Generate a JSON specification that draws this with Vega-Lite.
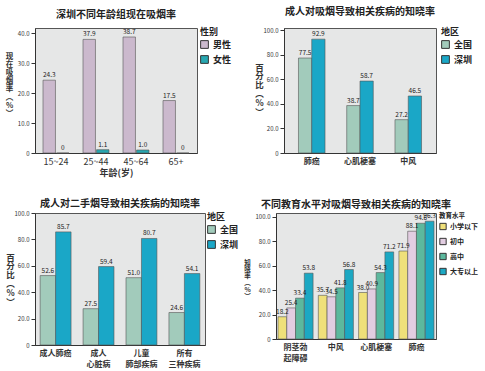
{
  "$schema": "https://vega.github.io/schema/vega-lite/v6.json",
  "background": "white",
  "padding": {"left": 4, "right": 0, "top": 6, "bottom": 0},
  "spacing": 20,
  "config": {
    "font": "Noto Sans CJK SC",
    "view": {"fill": "#e6e7e7", "stroke": "#555", "strokeWidth": 1},
    "title": {"font": "Noto Sans CJK SC", "fontSize": 10, "fontWeight": "bold", "color": "#222", "offset": 8},
    "axis": {"labelFont": "Noto Sans CJK SC", "titleFont": "Noto Sans CJK SC", "domainColor": "#333", "tickColor": "#333", "labelColor": "#333", "titleColor": "#333", "grid": false},
    "legend": {"labelFont": "Noto Sans CJK SC", "titleFont": "Noto Sans CJK SC", "titleFontSize": 9, "labelFontSize": 9, "titleFontWeight": "bold", "labelFontWeight": "bold", "symbolType": "square", "symbolSize": 60, "symbolStrokeColor": "#333", "symbolStrokeWidth": 1, "offset": 4, "rowPadding": 2, "titlePadding": 3, "labelColor": "#222", "titleColor": "#222"},
    "concat": {"spacing": 16}
  },
  "resolve": {"scale": {"color": "independent", "xOffset": "independent"}},
  "vconcat": [
    {
      "resolve": {"scale": {"color": "independent", "xOffset": "independent"}},
      "spacing": 21,
      "hconcat": [
        {
          "title": {"text": "深圳不同年龄组现在吸烟率", "offset": 8},
          "width": 162, "height": 125,
          "data": {"values": [
            {"age": "15~24", "sex": "男性", "v": 24.3}, {"age": "15~24", "sex": "女性", "v": 0},
            {"age": "25~44", "sex": "男性", "v": 37.9}, {"age": "25~44", "sex": "女性", "v": 1.1},
            {"age": "45~64", "sex": "男性", "v": 38.7}, {"age": "45~64", "sex": "女性", "v": 1.0},
            {"age": "65+", "sex": "男性", "v": 17.5}, {"age": "65+", "sex": "女性", "v": 0}
          ]},
          "encoding": {
            "x": {"field": "age", "type": "nominal", "sort": ["15~24", "25~44", "45~64", "65+"], "scale": {"paddingInner": 0.35, "paddingOuter": 0.2}, "axis": {"title": "年龄(岁)", "labelAngle": 0, "labelFontSize": 9, "titleFontSize": 9, "ticks": false, "labelPadding": 4, "titlePadding": 2}},
            "xOffset": {"field": "sex", "sort": ["男性", "女性"], "scale": {"paddingInner": 0.08}},
            "y": {"field": "v", "type": "quantitative", "scale": {"domain": [0, 41.7], "nice": false}, "axis": {"values": [0, 10, 20, 30, 40], "labelExpr": "datum.value == 0 ? '0' : format(datum.value, '.1f')", "labelFontSize": 6, "tickSize": 4, "title": ["现", "在", "吸", "烟", "率", "︵", "%", "︶"], "titleAngle": 0, "titleFontSize": 7.5, "titleLineHeight": 8.2, "titleAlign": "center", "titleBaseline": "middle", "titleX": -26, "titleY": 28}}
          },
          "layer": [
            {"mark": {"type": "bar", "stroke": "#555", "strokeWidth": 0.6}, "encoding": {"color": {"field": "sex", "type": "nominal", "sort": ["男性", "女性"], "scale": {"domain": ["男性", "女性"], "range": ["#cbb9cd", "#27a7b1"]}, "legend": {"title": "性别", "orient": "right", "offset": 3}}}},
            {"mark": {"type": "text", "dy": -5, "fontSize": 6.5, "color": "#222", "text": {"expr": "datum.v == 0 ? '0' : format(datum.v, '.1f')"}}}
          ]
        },
        {
          "title": {"text": "成人对吸烟导致相关疾病的知晓率", "offset": 10},
          "width": 152, "height": 125,
          "data": {"values": [
            {"c": "肺癌", "r": "全国", "v": 77.5}, {"c": "肺癌", "r": "深圳", "v": 92.9},
            {"c": "心肌梗塞", "r": "全国", "v": 38.7}, {"c": "心肌梗塞", "r": "深圳", "v": 58.7},
            {"c": "中风", "r": "全国", "v": 27.2}, {"c": "中风", "r": "深圳", "v": 46.5}
          ]},
          "encoding": {
            "x": {"field": "c", "type": "nominal", "sort": ["肺癌", "心肌梗塞", "中风"], "scale": {"paddingInner": 0.45, "paddingOuter": 0.3}, "axis": {"title": null, "labelAngle": 0, "labelFontSize": 8, "labelFontWeight": "bold", "ticks": false, "labelPadding": 4}},
            "xOffset": {"field": "r", "sort": ["全国", "深圳"]},
            "y": {"field": "v", "type": "quantitative", "scale": {"domain": [0, 102], "nice": false}, "axis": {"values": [0, 20, 40, 60, 80, 100], "labelExpr": "datum.value == 0 ? '0' : format(datum.value, '.1f')", "labelFontSize": 6, "tickSize": 4, "title": ["百", "分", "比", "︵", "%", "︶"], "titleAngle": 0, "titleFontSize": 8.5, "titleFontWeight": "bold", "titleLineHeight": 8.8, "titleAlign": "center", "titleBaseline": "middle", "titleX": -25, "titleY": 39}}
          },
          "layer": [
            {"mark": {"type": "bar", "stroke": "#555", "strokeWidth": 0.6}, "encoding": {"color": {"field": "r", "type": "nominal", "scale": {"domain": ["全国", "深圳"], "range": ["#a2cbbb", "#1aa7c7"]}, "legend": {"title": "地区", "offset": 5}}}},
            {"mark": {"type": "text", "dy": -5, "fontSize": 6.5, "color": "#222", "text": {"expr": "format(datum.v, '.1f')"}}}
          ]
        }
      ]
    },
    {
      "resolve": {"scale": {"color": "independent", "xOffset": "independent"}},
      "spacing": 3,
      "hconcat": [
        {
          "title": {"text": "成人对二手烟导致相关疾病的知晓率", "offset": 1},
          "width": 170, "height": 132,
          "data": {"values": [
            {"c": "成人肺癌", "r": "全国", "v": 52.6}, {"c": "成人肺癌", "r": "深圳", "v": 85.7},
            {"c": "成人|心脏病", "r": "全国", "v": 27.5}, {"c": "成人|心脏病", "r": "深圳", "v": 59.4},
            {"c": "儿童|肺部疾病", "r": "全国", "v": 51.0}, {"c": "儿童|肺部疾病", "r": "深圳", "v": 80.7},
            {"c": "所有|三种疾病", "r": "全国", "v": 24.6}, {"c": "所有|三种疾病", "r": "深圳", "v": 54.1}
          ]},
          "encoding": {
            "x": {"field": "c", "type": "nominal", "sort": ["成人肺癌", "成人|心脏病", "儿童|肺部疾病", "所有|三种疾病"], "scale": {"paddingInner": 0.28, "paddingOuter": 0.12}, "axis": {"title": null, "labelAngle": 0, "labelFontSize": 8, "labelFontWeight": "bold", "ticks": false, "labelPadding": 4, "labelLineHeight": 11, "labelExpr": "split(datum.label, '|')"}},
            "xOffset": {"field": "r", "sort": ["全国", "深圳"]},
            "y": {"field": "v", "type": "quantitative", "scale": {"domain": [0, 100], "nice": false}, "axis": {"values": [0, 20, 40, 60, 80, 100], "labelExpr": "datum.value == 0 ? '0' : format(datum.value, '.1f')", "labelFontSize": 6, "tickSize": 4, "title": ["\u2002百\u2002", "分", "比", "︵", "%", "︶"], "titleAngle": 0, "titleFontSize": 8.5, "titleFontWeight": "bold", "titleLineHeight": 8.8, "titleAlign": "center", "titleBaseline": "middle", "titleX": -25, "titleY": 44}}
          },
          "layer": [
            {"mark": {"type": "bar", "stroke": "#555", "strokeWidth": 0.6}, "encoding": {"color": {"field": "r", "type": "nominal", "scale": {"domain": ["全国", "深圳"], "range": ["#a2cbbb", "#1aa7c7"]}, "legend": {"title": "地区", "offset": 2}}}},
            {"mark": {"type": "text", "dy": -5, "fontSize": 6.5, "color": "#222", "text": {"expr": "format(datum.v, '.1f')"}}}
          ]
        },
        {
          "title": {"text": "不同教育水平对吸烟导致相关疾病的知晓率", "offset": 3},
          "width": 160, "height": 126,
          "data": {"values": [
            {"c": "阴茎勃|起障碍", "e": "小学以下", "v": 18.2}, {"c": "阴茎勃|起障碍", "e": "初中", "v": 25.4}, {"c": "阴茎勃|起障碍", "e": "高中", "v": 33.4}, {"c": "阴茎勃|起障碍", "e": "大专以上", "v": 53.8},
            {"c": "中风", "e": "小学以下", "v": 35.7}, {"c": "中风", "e": "初中", "v": 34.5}, {"c": "中风", "e": "高中", "v": 41.8}, {"c": "中风", "e": "大专以上", "v": 56.8},
            {"c": "心肌梗塞", "e": "小学以下", "v": 38.0}, {"c": "心肌梗塞", "e": "初中", "v": 40.9}, {"c": "心肌梗塞", "e": "高中", "v": 54.3}, {"c": "心肌梗塞", "e": "大专以上", "v": 71.2},
            {"c": "肺癌", "e": "小学以下", "v": 71.9}, {"c": "肺癌", "e": "初中", "v": 88.1}, {"c": "肺癌", "e": "高中", "v": 94.6}, {"c": "肺癌", "e": "大专以上", "v": 96.3}
          ]},
          "encoding": {
            "x": {"field": "c", "type": "nominal", "sort": ["阴茎勃|起障碍", "中风", "心肌梗塞", "肺癌"], "scale": {"paddingInner": 0.13, "paddingOuter": 0.05}, "axis": {"title": null, "labelAngle": 0, "labelFontSize": 8, "labelFontWeight": "bold", "ticks": false, "labelPadding": 4, "labelLineHeight": 11, "labelExpr": "split(datum.label, '|')"}},
            "xOffset": {"field": "e", "sort": ["小学以下", "初中", "高中", "大专以上"]},
            "y": {"field": "v", "type": "quantitative", "scale": {"domain": [0, 103], "nice": false}, "axis": {"values": [0, 20, 40, 60, 80, 100], "labelExpr": "datum.value == 0 ? '0' : format(datum.value, '.1f')", "labelFontSize": 6, "tickSize": 4, "title": ["知", "晓", "率", "︵", "%", "︶"], "titleAngle": 0, "titleFontSize": 6.5, "titleLineHeight": 6.8, "titleAlign": "center", "titleBaseline": "middle", "titleX": -29, "titleY": 49}}
          },
          "layer": [
            {"mark": {"type": "bar", "stroke": "#555", "strokeWidth": 0.6}, "encoding": {"color": {"field": "e", "type": "nominal", "scale": {"domain": ["小学以下", "初中", "高中", "大专以上"], "range": ["#efe07a", "#e2cde1", "#5cb89d", "#1ca8c3"]}, "legend": {"title": "教育水平", "offset": 3, "titleFontSize": 6.5, "labelFontSize": 7, "symbolSize": 40, "rowPadding": 3, "labelOffset": 3}}}},
            {"mark": {"type": "text", "dy": -5, "fontSize": 6.5, "color": "#222", "text": {"expr": "format(datum.v, '.1f')"}}}
          ]
        }
      ]
    }
  ]
}
